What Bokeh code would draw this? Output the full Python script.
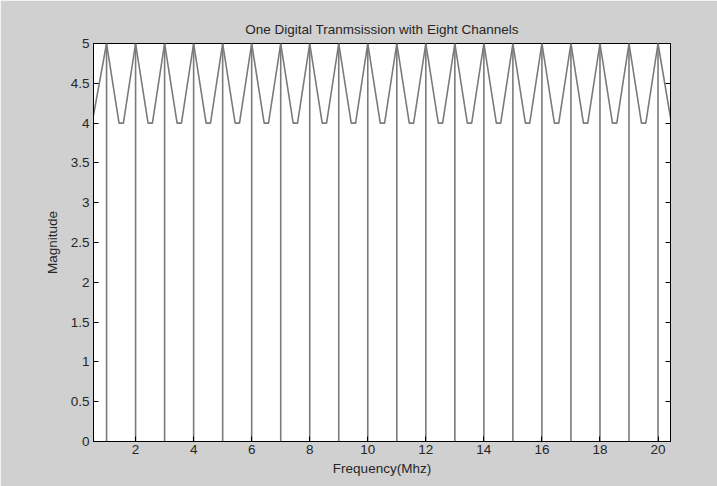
from bokeh.plotting import figure
from bokeh.models import LinearAxis, FixedTicker, Range1d
from bokeh.embed import file_html
from bokeh.resources import INLINE

# ---- data ----
channel_freq = [1, 2, 3, 4, 5, 6, 7, 8, 9, 10, 11, 12, 13, 14, 15, 16, 17, 18, 19, 20]
channel_mag = [5, 5, 5, 5, 5, 5, 5, 5, 5, 5, 5, 5, 5, 5, 5, 5, 5, 5, 5, 5]

wave_freq = [0.55,
             1, 1.43, 1.58, 2, 2.43, 2.58, 3, 3.43, 3.58, 4, 4.43, 4.58,
             5, 5.43, 5.58, 6, 6.43, 6.58, 7, 7.43, 7.58, 8, 8.43, 8.58,
             9, 9.43, 9.58, 10, 10.43, 10.58, 11, 11.43, 11.58, 12, 12.43, 12.58,
             13, 13.43, 13.58, 14, 14.43, 14.58, 15, 15.43, 15.58, 16, 16.43, 16.58,
             17, 17.43, 17.58, 18, 18.43, 18.58, 19, 19.43, 19.58, 20,
             20.43]
wave_mag = [4.1,
            5, 4, 4, 5, 4, 4, 5, 4, 4, 5, 4, 4,
            5, 4, 4, 5, 4, 4, 5, 4, 4, 5, 4, 4,
            5, 4, 4, 5, 4, 4, 5, 4, 4, 5, 4, 4,
            5, 4, 4, 5, 4, 4, 5, 4, 4, 5, 4, 4,
            5, 4, 4, 5, 4, 4, 5, 4, 4, 5,
            4.07]

x_ticks = [2, 4, 6, 8, 10, 12, 14, 16, 18, 20]
y_ticks = [0, 0.5, 1, 1.5, 2, 2.5, 3, 3.5, 4, 4.5, 5]
y_tick_labels = ["0", "0.5", "1", "1.5", "2", "2.5", "3", "3.5", "4", "4.5", "5"]

title_text = "One Digital Tranmsission with Eight Channels"
x_label = "Frequency(Mhz)"
y_label = "Magnitude"

FONT = "Liberation Sans"
FS = "13.5px"
TXT = "#262626"
BG = "#d0d0d0"

p = figure(width=717, height=486, output_backend="svg", toolbar_location=None,
           x_range=Range1d(0.55, 20.43), y_range=Range1d(0, 5),
           min_border_left=93, min_border_right=47, min_border_top=43, min_border_bottom=45)
p.border_fill_color = BG
p.background_fill_color = "white"
p.outline_line_color = "black"
p.outline_line_width = 1
p.grid.visible = False

p.title.text = title_text
p.title.align = "center"
p.title.text_font = FONT
p.title.text_font_size = FS
p.title.text_font_style = "normal"
p.title.text_color = TXT
p.title.standoff = 13

p.segment(x0=channel_freq, y0=[0] * len(channel_freq), x1=channel_freq, y1=channel_mag,
          line_color="#7a7a7a", line_width=1.6)
p.line(wave_freq, wave_mag, line_color="#7a7a7a", line_width=1.6)

def style_axis(ax):
    ax.major_tick_in = 5
    ax.major_tick_out = 0
    ax.minor_tick_in = 0
    ax.minor_tick_out = 0
    ax.axis_line_color = "black"
    ax.major_tick_line_color = "black"
    ax.major_label_text_font = FONT
    ax.major_label_text_font_size = FS
    ax.major_label_text_color = TXT
    ax.axis_label_text_font = FONT
    ax.axis_label_text_font_size = FS
    ax.axis_label_text_font_style = "normal"
    ax.axis_label_text_color = TXT

xa = p.xaxis[0]
style_axis(xa)
xa.ticker = FixedTicker(ticks=x_ticks)
xa.axis_label = x_label
xa.major_label_standoff = 3
xa.axis_label_standoff = 4

ya = p.yaxis[0]
style_axis(ya)
ya.ticker = FixedTicker(ticks=y_ticks)
ya.major_label_overrides = {t: l for t, l in zip(y_ticks, y_tick_labels)}
ya.axis_label = y_label
ya.major_label_standoff = 4
ya.axis_label_standoff = 8

ra = LinearAxis(ticker=FixedTicker(ticks=y_ticks))
style_axis(ra)
ra.major_label_overrides = {t: "" for t in y_ticks}
ra.major_label_standoff = 0
p.add_layout(ra, "right")

open("out.html", "w").write(file_html(p, INLINE))
